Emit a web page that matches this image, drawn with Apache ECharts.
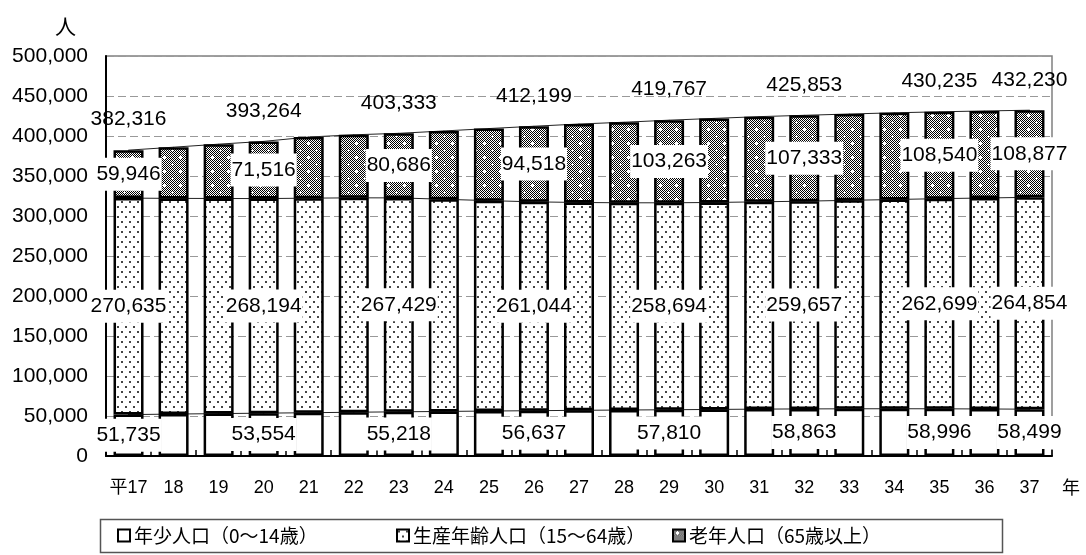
<!DOCTYPE html>
<html>
<head>
<meta charset="utf-8">
<script src="https://cdn.jsdelivr.net/npm/echarts@6/dist/echarts.min.js"></script>
<style>
  html, body { margin: 0; padding: 0; background: #fff; }
  #chart { width: 1086px; height: 555px; }
</style>
</head>
<body>
<div id="chart"></div>
<script>
// Fiscal years (Heisei 17 to 37)
const years = ['平17', '18', '19', '20', '21', '22', '23', '24', '25', '26', '27',
               '28', '29', '30', '31', '32', '33', '34', '35', '36', '37'];

// Population by age group (persons)
const youth = [51735, 52400, 53000, 53554, 54100, 54700, 55218, 55700, 56200, 56637, 57100,
               57500, 57810, 58200, 58600, 58863, 59000, 59100, 58996, 58800, 58499];
const working = [270635, 269600, 268900, 268194, 268200, 268000, 267429, 265200, 263000, 261044, 259800,
                 259000, 258694, 258700, 259100, 259657, 260600, 261500, 262699, 263700, 264854];
const elderly = [59946, 64000, 67900, 71516, 76400, 78800, 80686, 85400, 90100, 94518, 98100,
                 100700, 103263, 105100, 106500, 107333, 107900, 108400, 108540, 108800, 108877];

// Years whose values are printed on the bars
const labeledYears = ['平17', '20', '23', '26', '29', '32', '35', '37'];

const seriesNames = ['年少人口（0～14歳）', '生産年齢人口（15～64歳）', '老年人口（65歳以上）'];

const NUM_FONT = "'Liberation Sans', Arial, sans-serif";
const JP_FONT = "'Noto Sans CJK JP', sans-serif";

// Fill patterns
function dotPattern() {
  const c = document.createElement('canvas');
  c.width = 8; c.height = 10;
  const g = c.getContext('2d');
  g.fillStyle = '#fff'; g.fillRect(0, 0, 8, 10);
  g.fillStyle = '#444';
  g.fillRect(1, 1, 2, 2);
  g.fillRect(5, 6, 2, 2);
  return c;
}
function checkerPattern() {
  const w = 16, h = 14;
  const c = document.createElement('canvas');
  c.width = w; c.height = h;
  const g = c.getContext('2d');
  g.fillStyle = '#fff'; g.fillRect(0, 0, w, h);
  g.fillStyle = '#000';
  for (let y = 0; y < h; y++) {
    for (let x = 0; x < w; x++) {
      if ((x + y) % 2 === 0) g.fillRect(x, y, 1, 1);
    }
  }
  g.fillStyle = '#fff';
  const plus = (px, py) => {
    g.fillRect(px - 1, py, 3, 1);
    g.fillRect(px, py - 1, 1, 3);
  };
  plus(4, 3);
  plus(12, 10);
  return c;
}

const fmt = v => v.toLocaleString('en-US');
const isLabeled = i => labeledYears.includes(years[i]);

const labelBox = {
  fontFamily: NUM_FONT,
  fontSize: 21,
  color: '#000',
  backgroundColor: '#fff',
  lineHeight: 24,
  padding: [6, 1, 3, 1]
};

function barData(arr) {
  return arr.map((v, i) => ({
    value: v,
    label: { show: isLabeled(i) }
  }));
}

const boundary1 = youth.slice();
const boundary2 = youth.map((v, i) => v + working[i]);
const totals = youth.map((v, i) => v + working[i] + elderly[i]);

const barCommon = {
  type: 'bar',
  stack: 'pop',
  barWidth: 30,
  z: 3,
  label: Object.assign({ position: 'inside', formatter: p => fmt(p.value) }, labelBox)
};

const lineCommon = {
  type: 'line',
  symbol: 'circle',
  symbolSize: 1,
  showSymbol: true,
  z: 1,
  silent: true,
  itemStyle: { color: '#000' },
  lineStyle: { color: '#222', width: 1 }
};

const chart = echarts.init(document.getElementById('chart'), null, { renderer: 'canvas' });

chart.setOption({
  animation: false,
  backgroundColor: '#fff',
  grid: {
    left: 106, right: 34, top: 56, bottom: 99,
    show: true,
    borderColor: '#808080',
    borderWidth: 1.5
  },
  xAxis: {
    type: 'category',
    data: years,
    boundaryGap: true,
    axisLine: { lineStyle: { color: '#000', width: 2 } },
    axisTick: { show: true, inside: true, length: 6, interval: 0, lineStyle: { color: '#000', width: 1.5 } },
    axisLabel: {
      interval: 0,
      margin: 23,
      fontSize: 18,
      color: '#000',
      fontFamily: NUM_FONT + ", 'Noto Sans CJK JP'"
    }
  },
  yAxis: {
    type: 'value',
    min: 0,
    max: 500000,
    interval: 50000,
    axisLine: { show: true, lineStyle: { color: '#000', width: 2 } },
    axisTick: { show: false },
    axisLabel: {
      margin: 18,
      fontSize: 21,
      color: '#000',
      fontFamily: NUM_FONT,
      formatter: v => fmt(v)
    },
    splitLine: { show: true, lineStyle: { color: '#999', width: 1, type: [8, 4] } }
  },
  legend: seriesNames.map((name, k) => ({
    data: [name],
    left: [117, 396, 672][k],
    top: 526,
    icon: 'rect',
    itemWidth: 12,
    itemHeight: 12,
    itemGap: 0,
    padding: 0,
    itemStyle: { borderColor: '#000', borderWidth: 2 },
    textStyle: { fontFamily: JP_FONT, fontSize: 19, color: '#000', padding: [0, 0, 0, -1] }
  })),
  series: [
    Object.assign({}, barCommon, {
      name: seriesNames[0],
      data: barData(youth),
      itemStyle: { color: '#fff', borderColor: '#000', borderWidth: 2.5 }
    }),
    Object.assign({}, barCommon, {
      name: seriesNames[1],
      data: barData(working),
      itemStyle: { color: { image: dotPattern(), repeat: 'repeat' }, borderColor: '#000', borderWidth: 2.5 }
    }),
    Object.assign({}, barCommon, {
      name: seriesNames[2],
      data: barData(elderly),
      itemStyle: { color: { image: checkerPattern(), repeat: 'repeat' }, borderColor: '#000', borderWidth: 2.5 }
    }),
    // Series lines joining the segment tops between bars
    Object.assign({}, lineCommon, { data: boundary1, label: { show: false } }),
    Object.assign({}, lineCommon, { data: boundary2, label: { show: false } }),
    Object.assign({}, lineCommon, {
      data: totals.map((v, i) => ({ value: v, label: { show: isLabeled(i) } })),
      label: {
        position: 'top',
        distance: 18,
        formatter: p => fmt(p.value),
        fontFamily: NUM_FONT,
        fontSize: 21,
        color: '#000',
        lineHeight: 24
      }
    })
  ],
  graphic: [
    {
      type: 'text',
      left: 55, top: 16,
      style: { text: '人', font: "21px 'Noto Sans CJK JP'", fill: '#000' }
    },
    {
      type: 'text',
      left: 1062, top: 478,
      style: { text: '年', font: "18px 'Noto Sans CJK JP'", fill: '#000' }
    },
    {
      type: 'rect',
      z: -1,
      shape: { x: 100.5, y: 519.5, width: 902, height: 33 },
      style: { fill: 'none', stroke: '#555', lineWidth: 1.5 }
    }
  ]
});
</script>
</body>
</html>
